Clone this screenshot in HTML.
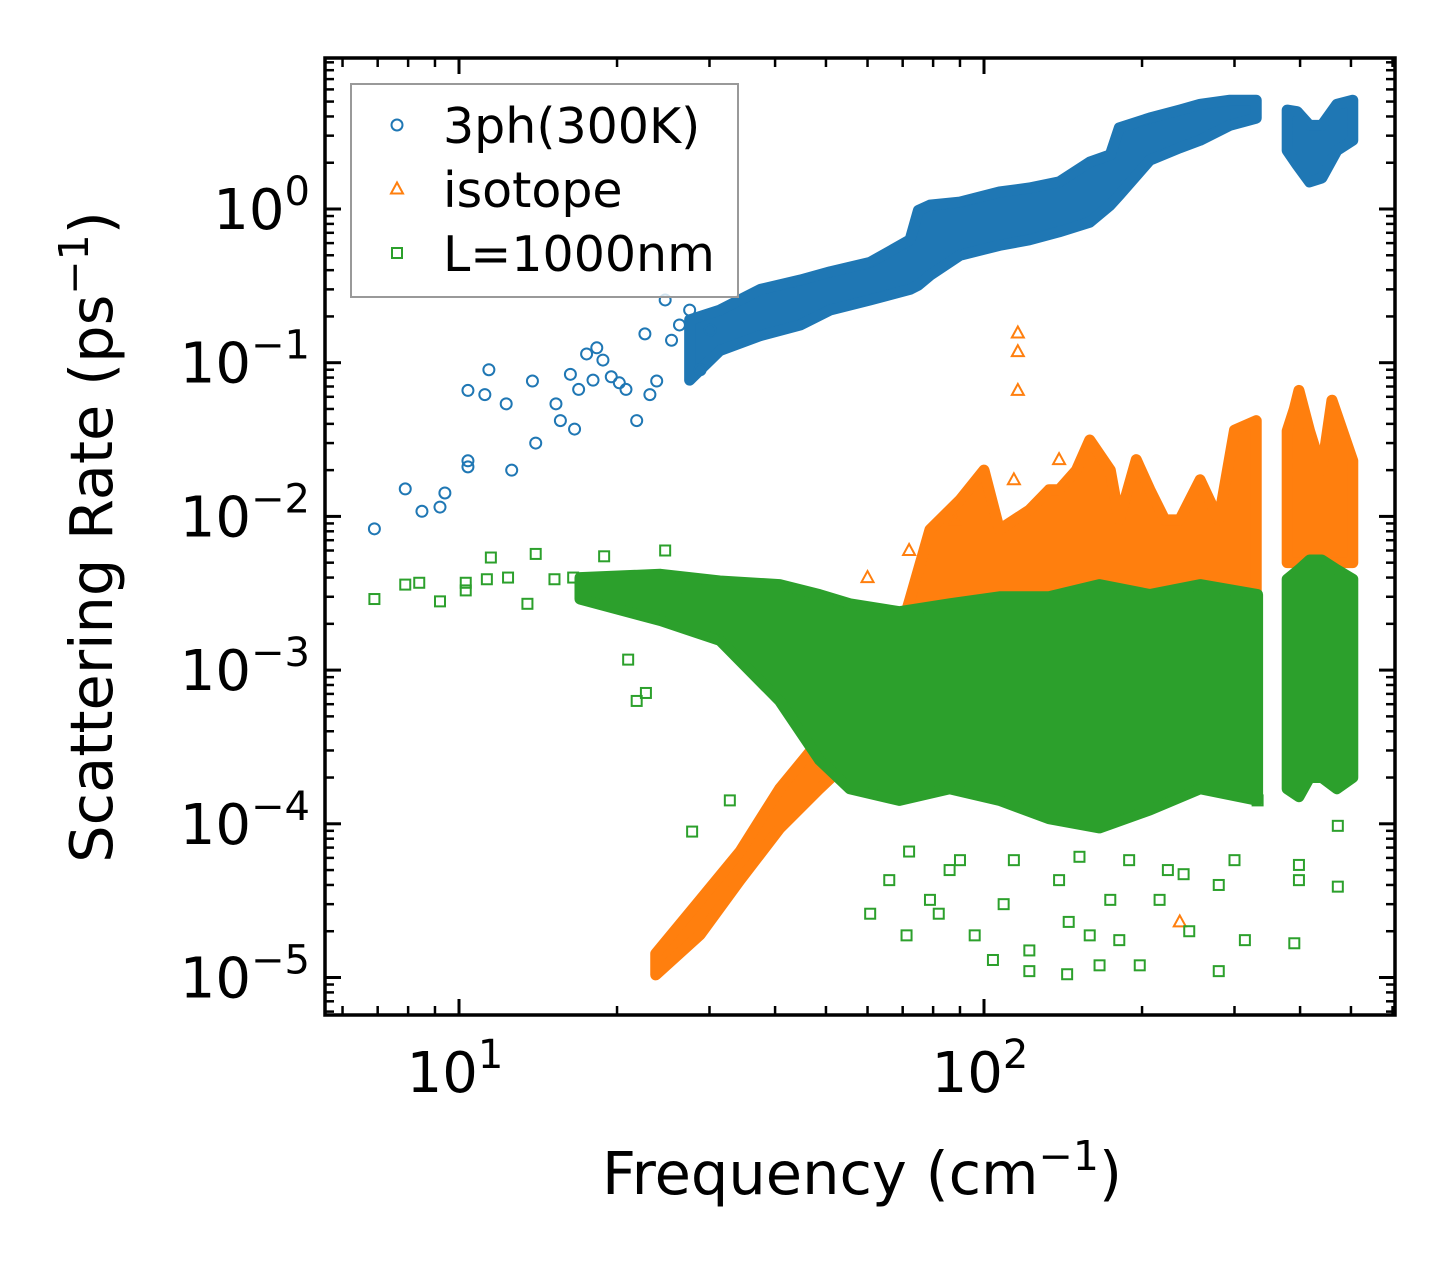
<!DOCTYPE html>
<html><head><meta charset="utf-8"><style>
html,body{margin:0;padding:0;background:#fff;}
svg{display:block;font-family:"DejaVu Sans","Liberation Sans",sans-serif;}
</style></head><body>
<svg id="chart" width="1455" height="1265" viewBox="0 0 1455 1265" xmlns="http://www.w3.org/2000/svg">
<rect width="1455" height="1265" fill="#fff"/>
<g id="bands"></g><g id="marks"></g><g id="axes"></g><g id="legend"></g>
</svg>
<script>
// ---- data: sparse points (frequency cm^-1, rate ps^-1) ----
const blueF=[6.9,7.9,8.5,9.2,9.4,10.4,10.4,10.4,11.2,11.4,12.3,12.6,13.8,14.0,15.3,15.6,16.3,16.6,16.9,17.5,18.0,18.3,18.8,19.5,20.2,20.8,21.8,22.6,23.1,23.8,24.7,25.4,26.3,27.5,28.8,30.1];
const blueR=[0.0083,0.0151,0.0108,0.0115,0.0142,0.066,0.021,0.023,0.062,0.090,0.054,0.020,0.076,0.030,0.054,0.042,0.084,0.037,0.067,0.114,0.077,0.125,0.104,0.081,0.074,0.067,0.042,0.154,0.062,0.076,0.256,0.14,0.176,0.22,0.09,0.163];
const orangeF=[116,116,116,88,114,236,139,60,72];
const orangeR=[0.156,0.118,0.066,0.0095,0.0173,2.3e-5,0.0234,0.004,0.006];
const greenF=[6.9,7.9,8.4,9.2,10.3,10.3,11.3,11.5,12.4,13.5,14.0,15.2,16.5,18.9,21.0,21.8,24.7,22.7,27.8,32.8,25.9,66,71.2,78.9,86,96,104,109,122,139,145,144,159,166,174,181,198,216,224,246,280,280,314,390,398,472,472,72,90,114,152,189,240,300,398,332,122,82,60.7];
const greenR=[0.0029,0.0036,0.0037,0.0028,0.0037,0.0033,0.0039,0.0054,0.0040,0.0027,0.0057,0.0039,0.0040,0.0055,0.00117,0.00063,0.0060,0.00071,8.9e-5,1.42e-4,0.0029,4.3e-5,1.88e-5,3.2e-5,5.0e-5,1.88e-5,1.3e-5,3.0e-5,1.1e-5,4.3e-5,2.3e-5,1.05e-5,1.88e-5,1.2e-5,3.2e-5,1.75e-5,1.2e-5,3.2e-5,5.0e-5,2.0e-5,4.0e-5,1.1e-5,1.75e-5,1.67e-5,4.3e-5,3.9e-5,9.7e-5,6.6e-5,5.8e-5,5.8e-5,6.1e-5,5.8e-5,4.7e-5,5.8e-5,5.4e-5,1.42e-4,1.5e-5,2.6e-5,2.6e-5];
// ---- data: dense-region envelopes (frequency, low rate, high rate) ----
const blueBandF=[27.5,31.4,37.5,44.7,50.9,60.7,72.3,75,78.9,90,107,122,139,159,174,181,207,236,258,294,330];
const blueBandLo=[0.077,0.12,0.15,0.176,0.22,0.256,0.30,0.32,0.37,0.50,0.58,0.63,0.71,0.82,1.06,1.23,2.08,2.5,2.8,3.5,3.9];
const blueBandHi=[0.19,0.22,0.30,0.345,0.39,0.45,0.63,0.98,1.06,1.11,1.29,1.37,1.50,2.02,2.25,3.37,3.91,4.4,4.8,5.1,5.1];
const blueBand2F=[378,395,417,440,470,504];
const blueBand2Lo=[2.4,1.93,1.5,1.59,2.4,2.8];
const blueBand2Hi=[4.4,4.3,3.5,3.5,4.8,5.1];
const orBandF=[23.7,28.8,34.3,40.8,48.6,55.5,63.3,72.3,78.9,90,100,107,122,133,139,150,159,174,181,195,207,221,236,258,280,300,330];
const orBandLo=[1.04e-5,1.9e-5,4.3e-5,9.3e-5,1.69e-4,2.6e-4,3.0e-4,3.5e-4,0.0015,0.0015,0.0015,0.0015,0.0015,0.0015,0.0015,0.0015,0.0015,0.0015,0.0015,0.0015,0.0015,0.0015,0.0015,0.0015,0.0015,0.0015,0.0015];
const orBandHi=[1.43e-5,3.2e-5,6.6e-5,1.69e-4,3.5e-4,6.3e-4,6.3e-4,0.0029,0.0082,0.0128,0.020,0.0082,0.011,0.0149,0.0149,0.020,0.0314,0.020,0.0095,0.0234,0.0149,0.0095,0.0095,0.0173,0.0095,0.0364,0.042];
const orBand2F=[378,390,398,417,440,460,504];
const orBand2Lo=[0.005,0.005,0.005,0.005,0.005,0.005,0.005];
const orBand2Hi=[0.036,0.05,0.066,0.036,0.020,0.057,0.023];
const grBandF=[17,24.2,31.4,40.8,48.6,55.5,69,86,107,133,166,207,258,332];
const grBandLo=[0.0029,0.0021,0.00156,6.3e-4,2.6e-4,1.69e-4,1.42e-4,1.69e-4,1.42e-4,1.08e-4,9.4e-5,1.23e-4,1.69e-4,1.42e-4];
const grBandHi=[0.0040,0.0042,0.0038,0.0036,0.0031,0.0027,0.0024,0.0027,0.0030,0.0030,0.0036,0.0031,0.0036,0.0031];
const grBand2F=[378,398,417,440,470,504];
const grBand2Lo=[1.69e-4,1.5e-4,2.0e-4,2.0e-4,1.69e-4,2.0e-4];
const grBand2Hi=[0.0039,0.0045,0.0052,0.0052,0.0045,0.0039];
const xTickVals=[10,100];
const xTickLabels=["1","2"];
const yTickVals=[1,0.1,0.01,0.001,0.0001,0.00001];
const yTickLabels=["0","\u22121","\u22122","\u22123","\u22124","\u22125"];

const NS="http://www.w3.org/2000/svg";
const L=325,R=1395,T=58,B=1015;
const fx=f=>459+525*Math.log10(f/10);
const fy=r=>209-153.7*Math.log10(r);
const C={b:"#1f77b4",o:"#ff7f0e",g:"#2ca02c"};
function mk(tag,attrs,parent){const e=document.createElementNS(NS,tag);for(const k in attrs)e.setAttribute(k,attrs[k]);parent.appendChild(e);return e;}
const bands=document.getElementById('bands'),axes=document.getElementById('axes'),legend=document.getElementById('legend');
const gB=mk('g',{},bands);
const gO=mk('g',{},bands);
const gG=mk('g',{},bands);

function band(F,Lo,Hi,col,g,name){
  let p=F.map((f,i)=>fx(f)+','+fy(Hi[i]));
  for(let i=F.length-1;i>=0;i--)p.push(fx(F[i])+','+fy(Lo[i]));
  const e=mk('polygon',{points:p.join(' '),fill:col,stroke:col,'stroke-width':11,'stroke-linejoin':'round'},g);
  
  
}
function marker(type,x,y,col,g){
  let e;
  if(type==='c')e=mk('circle',{cx:x,cy:y,r:5.5,fill:'none',stroke:col,'stroke-width':2},g);
  else if(type==='t')e=mk('polygon',{points:`${x},${y-6.5} ${x-6},${y+4.5} ${x+6},${y+4.5}`,fill:'none',stroke:col,'stroke-width':2},g);
  else e=mk('rect',{x:x-5,y:y-5,width:10,height:10,fill:'none',stroke:col,'stroke-width':2},g);
  return e;
}
band(blueBandF,blueBandLo,blueBandHi,C.b,gB,'band-3ph-main');
band(blueBand2F,blueBand2Lo,blueBand2Hi,C.b,gB,'band-3ph-high');
blueF.forEach((f,i)=>{const e=marker('c',fx(f),fy(blueR[i]),C.b,gB);

});
band(orBandF,orBandLo,orBandHi,C.o,gO,'band-isotope-main');
band(orBand2F,orBand2Lo,orBand2Hi,C.o,gO,'band-isotope-high');
orangeF.forEach((f,i)=>{const e=marker('t',fx(f),fy(orangeR[i]),C.o,gO);

});
band(grBandF,grBandLo,grBandHi,C.g,gG,'band-boundary-main');
band(grBand2F,grBand2Lo,grBand2Hi,C.g,gG,'band-boundary-high');
greenF.forEach((f,i)=>{const e=marker('s',fx(f),fy(greenR[i]),C.g,gG);

});

const frame=mk('rect',{x:L,y:T,width:R-L,height:B-T,fill:'none',stroke:'#000','stroke-width':3.5},axes);


function tick(x1,y1,x2,y2,w){mk('line',{x1,y1,x2,y2,stroke:'#000','stroke-width':w},axes);}
for(let d=0;d<=2;d++){for(let m=1;m<=9;m++){const v=m*Math.pow(10,d);const x=fx(v);if(x<L+2||x>R-2)continue;const len=m===1?16:9,w=m===1?3:2.5;tick(x,B,x,B-len,w);tick(x,T,x,T+len,w);}}
for(let d=-6;d<=0;d++){for(let m=1;m<=9;m++){const v=m*Math.pow(10,d);const y=fy(v);if(y<T+2||y>B-2)continue;const len=m===1?16:9,w=m===1?3:2.5;tick(L,y,L+len,y,w);tick(R,y,R-len,y,w);}}
xTickVals.forEach((v,i)=>{const t=mk('text',{x:fx(v)-4,y:1092,'font-size':56,'text-anchor':'middle'},axes);


t.textContent='10';const s=mk('tspan',{dy:-24,'font-size':40},t);s.textContent=xTickLabels[i];});
yTickVals.forEach((v,i)=>{const t=mk('text',{x:310,y:fy(v)+20,'font-size':56,'text-anchor':'end'},axes);


const a=mk('tspan',{},t);a.textContent='10';const s=mk('tspan',{dy:-24,'font-size':40},t);s.textContent=yTickLabels[i];});
const xt=mk('text',{x:862,y:1194,'font-size':59,'text-anchor':'middle'},axes);


xt.innerHTML='Frequency (cm<tspan dy="-24" font-size="41">\u22121</tspan><tspan dy="24">)</tspan>';
const yt=mk('text',{x:0,y:0,'font-size':59,'text-anchor':'middle',transform:'translate(112,537) rotate(-90)'},axes);


yt.innerHTML='Scattering Rate (ps<tspan dy="-24" font-size="41">\u22121</tspan><tspan dy="24">)</tspan>';
const lg=mk('g',{},legend);


mk('rect',{x:351,y:84,width:387,height:213,fill:'#fff','fill-opacity':0.8,stroke:'#999','stroke-width':2},lg);
const entries=[['c',C.b,'3ph(300K)'],['t',C.o,'isotope'],['s',C.g,'L=1000nm']];
entries.forEach((en,i)=>{const y=125+i*64;const g=mk('g',{},lg);


marker(en[0],397,y,en[1],g);const t=mk('text',{x:443,y:y+18,'font-size':49},g);t.textContent=en[2];});
</script>
</body></html>
